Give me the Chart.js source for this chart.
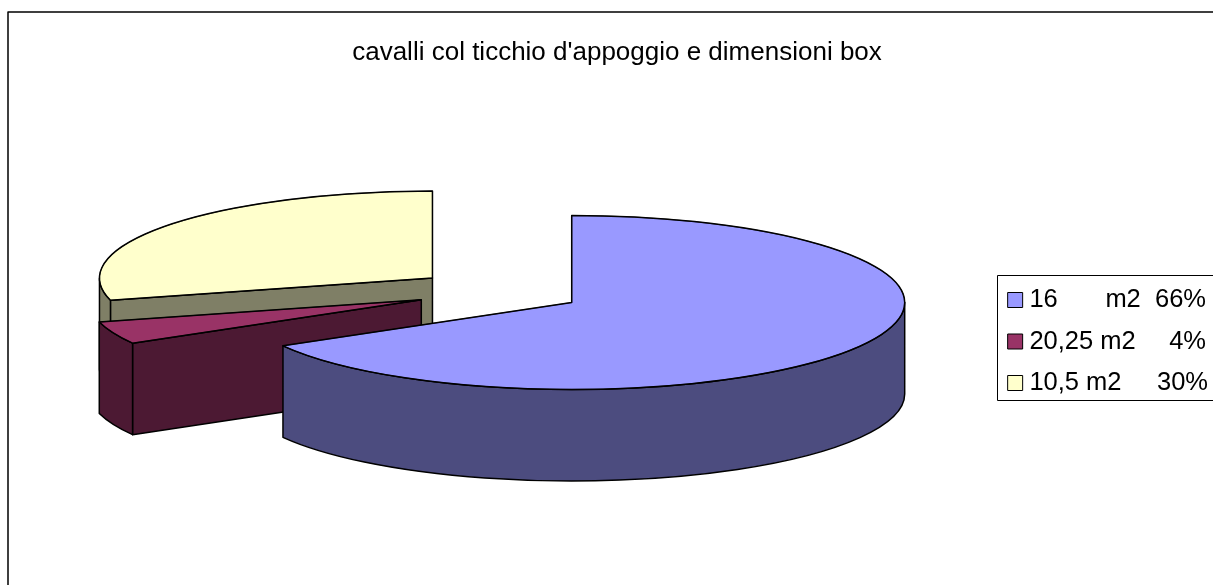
<!DOCTYPE html>
<html>
<head>
<meta charset="utf-8">
<title>cavalli col ticchio d'appoggio</title>
<script src="https://cdn.jsdelivr.net/npm/chart.js@4/dist/chart.umd.min.js"></script>
<style>
  html, body { margin: 0; padding: 0; background: #fff; overflow: hidden; }
  canvas { display: block; }
</style>
</head>
<body>
<canvas id="pie" width="1213" height="585"></canvas>
<script>
const chartTitle = "cavalli col ticchio d'appoggio e dimensioni box";
const categories = ['16\u2009      m2  66%', '20,25 m2\u2009    4%', '10,5 m2     30%'];
// slice sizes as they measure on the picture, a bit off the rounded legend text
const shares = [66.7, 4.2, 29.1];
const topColors = ['#9999FF', '#993366', '#FFFFCC'];
const sideColors = ['#4C4C7F', '#4C1933', '#7F7F66'];

// how the flat pie is laid down on the page
const view = { x: 499, y: 291.5, radius: 333, squash: 87 / 333, depth: 91.5, explode: 84 };

// back slices first, the big front one last
const paintOrder = [2, 1, 0];

function drawSlice(ctx, el, index) {
    const { startAngle: start, endAngle: end } = el;
    const mid = (start + end) / 2;
    const ax = view.x + Math.cos(mid) * view.explode;
    const ay = view.y + Math.sin(mid) * view.explode * view.squash;
    const rx = view.radius;
    const ry = view.radius * view.squash;

    ctx.lineWidth = 1.5;
    ctx.lineJoin = 'round';
    ctx.strokeStyle = '#000';
    ctx.fillStyle = sideColors[index];

    // straight cut faces that look to the viewer
    [[start, Math.cos(start) < -1e-6], [end, Math.cos(end) > 1e-6]].forEach(([a, visible]) => {
        if (!visible) return;
        const px = ax + Math.cos(a) * rx;
        const py = ay + Math.sin(a) * ry;
        ctx.beginPath();
        ctx.moveTo(ax, ay);
        ctx.lineTo(px, py);
        ctx.lineTo(px, py + view.depth);
        ctx.lineTo(ax, ay + view.depth);
        ctx.closePath();
        ctx.fill();
        ctx.stroke();
    });

    // outer rim, only the front half shows
    const rimStart = Math.max(start, 0);
    const rimEnd = Math.min(end, Math.PI);
    if (rimEnd > rimStart) {
        ctx.beginPath();
        ctx.ellipse(ax, ay, rx, ry, 0, rimStart, rimEnd);
        ctx.ellipse(ax, ay + view.depth, rx, ry, 0, rimEnd, rimStart, true);
        ctx.closePath();
        ctx.fill();
        ctx.stroke();
    }

    // top face is the library's own arc, squashed
    ctx.save();
    ctx.translate(ax, ay);
    ctx.scale(1, view.squash);
    ctx.translate(-el.x, -el.y);
    el.draw(ctx);
    ctx.restore();

    ctx.beginPath();
    ctx.moveTo(ax, ay);
    ctx.ellipse(ax, ay, rx, ry, 0, start, end);
    ctx.closePath();
    ctx.stroke();
}

const pie3d = {
    id: 'pie3d',
    beforeDatasetsDraw(chart) {
        const arcs = chart.getDatasetMeta(0).data;
        paintOrder.forEach(i => drawSlice(chart.ctx, arcs[i], i));
        return false;
    },
    afterDraw(chart) {
        const ctx = chart.ctx;
        const first = chart.legend.legendHitBoxes[0];
        const last = chart.legend.legendHitBoxes[categories.length - 1];
        const boxTop = Math.round(first.top) - 11.5;
        const boxBottom = Math.round(last.top + last.height) + 4.5;
        ctx.save();
        ctx.strokeStyle = '#000';
        ctx.lineWidth = 1;
        // legend box runs off the right edge
        ctx.beginPath();
        ctx.moveTo(chart.width, boxTop);
        ctx.lineTo(997.5, boxTop);
        ctx.lineTo(997.5, boxBottom);
        ctx.lineTo(chart.width, boxBottom);
        ctx.stroke();
        // chart frame, only top and left fall inside the picture
        ctx.lineWidth = 1.5;
        ctx.beginPath();
        ctx.moveTo(8, chart.height);
        ctx.lineTo(8, 12);
        ctx.lineTo(chart.width, 12);
        ctx.stroke();
        ctx.restore();
    }
};

new Chart(document.getElementById('pie'), {
    type: 'pie',
    data: {
        labels: categories,
        datasets: [{
            data: shares,
            backgroundColor: topColors,
            borderColor: '#000',
            borderWidth: 1,
            radius: view.radius
        }]
    },
    options: {
        responsive: false,
        animation: false,
        layout: { padding: { left: 16, right: -5, bottom: -98 } },
        plugins: {
            tooltip: { enabled: false },
            title: {
                display: true,
                text: chartTitle,
                color: '#000',
                font: { family: '"Liberation Sans"', size: 26, weight: 'normal' },
                padding: { top: 37, bottom: 27 }
            },
            legend: {
                position: 'right',
                labels: {
                    color: '#000',
                    font: { family: '"Liberation Sans"', size: 25.5 },
                    usePointStyle: true,
                    pointStyle: 'rect',
                    boxWidth: 3,
                    boxHeight: 15,
                    padding: 16
                }
            }
        }
    },
    plugins: [pie3d]
});
</script>
</body>
</html>
